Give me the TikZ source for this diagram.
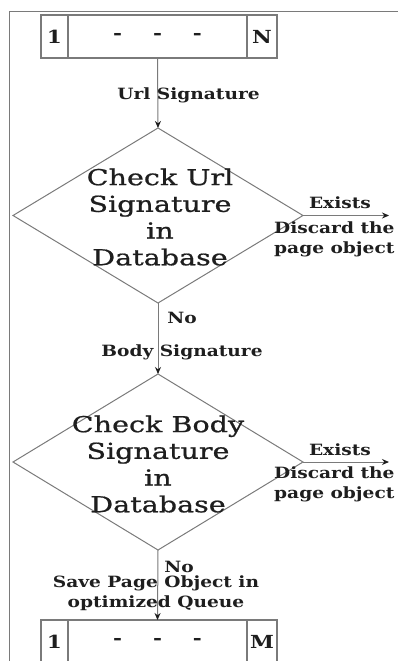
\documentclass[tikz,border=0pt]{standalone}
\usepackage{fontspec}
\setmainfont{DejaVu Serif}
\newfontfamily\labfont[FakeStretch=1.2]{DejaVu Serif}
\newfontfamily\boxfont[FakeStretch=1.3,FakeBold=0.8]{DejaVu Serif}
\usetikzlibrary{shapes.geometric,arrows.meta}
\definecolor{linegray}{HTML}{7A7A7A}
\definecolor{inkdark}{HTML}{1E1E1E}
\tikzset{
  frameline/.style={draw=linegray,line width=1.6pt},
  cell/.style={draw=linegray,line width=1.2pt,minimum height=43pt,inner sep=0pt,outer sep=0pt,
    text=inkdark,font=\labfont\bfseries\fontsize{18}{18}\selectfont},
  decision/.style={diamond,draw=linegray,line width=1pt,inner sep=0pt,outer sep=0pt},
  dtext/.style={align=center,text=inkdark,font=\boxfont\fontsize{22}{26.7}\selectfont,inner sep=0pt},
  lab/.style={text=inkdark,font=\labfont\bfseries\fontsize{15.5}{20}\selectfont,inner sep=0pt},
  flow/.style={draw=linegray,line width=1pt,-{Stealth[length=7pt,width=6pt,color=inkdark]}}
}
\begin{document}
\begin{tikzpicture}[x=1pt,y=-1pt]
\useasboundingbox (0,0) rectangle (398,661);
\clip (0,0) rectangle (398,661);
% outer frame (top and left edges)
\draw[frameline] (9.5,11.5) -- (400,11.5);
\draw[frameline] (9.5,11.5) -- (9.5,663);

% input queue 1 ... N
\node[cell,minimum width=27pt] (qa1) at (54.5,36.5) {1};
\node[cell,minimum width=179pt] (qb1) at (157.5,36.5) {-\hspace{31pt}-\hspace{31pt}-};
\node[cell,minimum width=30pt] (qc1) at (262,36.5) {N};

% first decision
\node[decision,minimum width=290pt,minimum height=175pt] (d1) at (158,215.5) {};
\node[dtext] (t1) at (160,217) {Check Url\\Signature\\in\\Database};
\draw[flow] (qb1.south) -- (d1.north);
\node[lab] (l1) at (188.5,95) {Url Signature};
\coordinate (e1) at (389,215.5);
\draw[flow] (d1.east) -- (e1);
\node[lab] (x1) at (340,203) {Exists};
\node[lab,anchor=west,align=left] (c1) at (274,239) {Discard the\\page object};

% second decision
\node[decision,minimum width=290pt,minimum height=176pt] (d2) at (158,462) {};
\node[dtext] (t2) at (158,464) {Check Body\\Signature\\in\\Database};
\draw[flow] (d1.south) -- (d2.north);
\node[lab] (n1) at (182,318) {No};
\node[lab] (l2) at (182,352) {Body Signature};
\coordinate (e2) at (389,462);
\draw[flow] (d2.east) -- (e2);
\node[lab] (x2) at (340,450) {Exists};
\node[lab,anchor=west,align=left] (c2) at (274,484) {Discard the\\page object};

% output queue 1 ... M
\node[cell,minimum width=27pt] (qa2) at (54.5,641.5) {1};
\node[cell,minimum width=179pt] (qb2) at (157.5,641.5) {-\hspace{31pt}-\hspace{31pt}-};
\node[cell,minimum width=30pt] (qc2) at (262,641.5) {M};
\draw[flow] (d2.south) -- (qb2.north);
\node[lab] (n2) at (179,567) {No};
\node[lab,align=center] (s2) at (156,593) {Save Page Object in\\optimized Queue};
\end{tikzpicture}
\end{document}
